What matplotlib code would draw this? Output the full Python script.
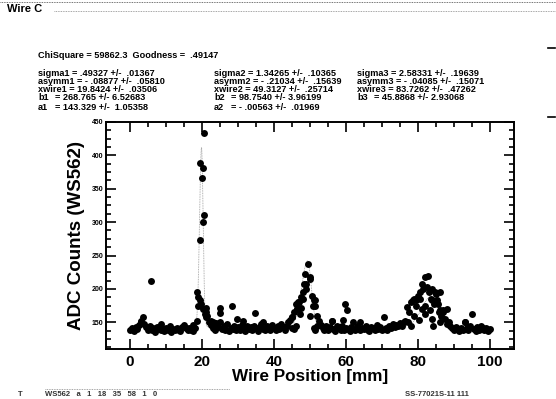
import numpy as np
import matplotlib.pyplot as plt

# wire scan, main pass every 0.5 mm from 0 to 100
x_main = np.arange(0, 100.5, 0.5)
y_main = [
    138, 141, 137, 143, 140, 146, 150, 158, 147, 143,   # 0 - 4.5
    139, 144, 138, 141, 136, 143, 140, 138, 142, 137,   # 5 - 9.5
    141, 139, 144, 136, 140, 138, 142, 139, 137, 143,   # 10 - 14.5
    146, 141, 138, 142, 139, 137, 141, 152, 188, 273,   # 15 - 19.5
    366, 310, 172, 160, 150, 146, 141, 138, 149, 143,   # 20 - 24.5
    151, 140, 144, 139, 147, 137, 142, 140, 145, 138,   # 25 - 29.5
    143, 139, 146, 141, 137, 144, 140, 143, 138, 145,   # 30 - 34.5
    141, 137, 143, 148, 140, 138, 144, 141, 139, 146,   # 35 - 39.5
    142, 138, 144, 140, 147, 143, 139, 145, 150, 153,   # 40 - 44.5
    158, 165, 178, 170, 180, 188, 195, 223, 208, 237,   # 45 - 49.5
    218, 190, 183, 175, 160, 152, 146, 141, 139, 144,   # 50 - 54.5
    138, 143, 152, 140, 137, 145, 141, 139, 144, 138,   # 55 - 59.5
    142, 140, 137, 143, 150, 139, 144, 141, 138, 142,   # 60 - 64.5
    140, 145, 139, 137, 143, 141, 138, 146, 140, 143,   # 65 - 69.5
    139, 158, 142, 138, 144, 141, 147, 143, 146, 144,   # 70 - 74.5
    149, 145, 150, 152, 173, 165, 180, 183, 185, 175,   # 75 - 79.5
    190, 195, 208, 200, 218, 203, 195, 185, 183, 178,   # 80 - 84.5
    193, 178, 168, 160, 165, 155, 170, 150, 145, 141,   # 85 - 89.5
    138, 143, 140, 137, 142, 139, 150, 141, 138, 144,   # 90 - 94.5
    163, 140, 137, 143, 139, 145, 141, 138, 142, 137,   # 95 - 99.5
    140,                                                # 100
]

# repeated readings (second pass) near the peaks and a few strays
x_extra = [5.8, 18.6, 18.8, 19.4, 20.3, 20.4, 20.3, 19.5, 19.7, 20.2,
           21.0, 21.2, 20.8, 22.4, 25.0, 25.0, 28.2, 29.6, 23.0, 34.7,
           31.5, 37.0, 44.9, 46.3, 47.2, 48.3, 50.0, 50.9, 51.4, 50.0,
           46.8, 49.0, 47.5, 48.0, 45.0, 45.5, 46.0, 51.0, 51.5, 52.0,
           59.7, 60.2, 59.3, 64.0, 56.0, 82.9, 81.9, 83.3, 83.8, 84.3,
           80.3, 77.3, 87.0, 86.1, 85.2, 80.6, 79.6, 84.7, 83.8, 82.0,
           81.0, 85.8, 79.0, 78.0, 86.0, 88.0, 93.0, 3.0, 17.5, 8.5]
y_extra = [212, 195, 175, 388, 381, 433, 300, 183, 178, 170,
           165, 158, 162, 152, 164, 171, 175, 155, 150, 164,
           152, 150, 158, 170, 163, 208, 160, 175, 183, 215,
           180, 200, 172, 185, 142, 140, 145, 142, 139, 144,
           178, 168, 153, 150, 152, 220, 163, 168, 155, 145,
           153, 150, 168, 195, 183, 185, 183, 195, 200, 175,
           170, 165, 160, 145, 150, 148, 150, 152, 146, 147]

# fit results printed on the plot (as printed)
chisq, goodness = "59862.3", ".49147"
sigma = [".49327", "1.34265", "2.58331"]
sigma_err = [".01367", ".10365", ".19639"]
asymm = ["-.08877", "-.21034", "-.04085"]
asymm_err = [".05810", ".15639", ".15071"]
xwire = ["19.8424", "49.3127", "83.7262"]
xwire_err = [".03506", ".25714", ".47262"]
b = ["268.765", "98.7540", "45.8868"]
b_err = ["6.52683", "3.96199", "2.93068"]
a = ["143.329", "-.00563"]
a_err = ["1.05358", ".01969"]


def fit_curve(x):
    y = float(a[0]) + float(a[1]) * x
    for s, asy, x0, amp in zip(sigma, asymm, xwire, b):
        s, asy, x0, amp = float(s), float(asy), float(x0), float(amp)
        sw = np.where(x < x0, s * (1 - asy), s * (1 + asy))
        y = y + amp * np.exp(-0.5 * ((x - x0) / sw) ** 2)
    return y


W, H = 556, 399
fig = plt.figure(figsize=(W / 100, H / 100), dpi=100)
fn = ["Liberation Sans Narrow", "Liberation Sans"]
fb = ["Liberation Sans", "DejaVu Sans"]


def ftext(px, py, s, **kw):
    fig.text(px / W, 1 - py / H, s, **kw)


def hline(x0, x1, py, color="#666666"):
    fig.add_artist(plt.Line2D([x0 / W, x1 / W], [1 - py / H, 1 - py / H],
                              color=color, lw=0.6, ls=(0, (1, 1))))


# header
ftext(7, 9, "Wire C", fontsize=8, fontweight="bold", family=fb, va="center")
hline(0, W, 2, "#444444")
hline(54, W, 11, "#888888")
fig.add_artist(plt.Line2D([548 / W, 555 / W], [1 - 48 / H] * 2, color="black", lw=1.2))
fig.add_artist(plt.Line2D([548 / W, 555 / W], [1 - 117 / H] * 2, color="black", lw=1.2))

hk = dict(fontsize=6.6, fontweight="bold", family=fn, va="center")
ftext(38, 55, f"ChiSquare = {chisq}  Goodness =  {goodness}", **hk)
cols = [38, 214, 357]
rows = [73, 81, 89, 98, 107]
for i in range(3):
    x0 = cols[i]
    ftext(x0, rows[0], f"sigma{i+1} = {sigma[i]} +/-  {sigma_err[i]}", **hk)
    ftext(x0, rows[1], f"asymm{i+1} = {asymm[i].replace('-', '- ')} +/-  {asymm_err[i]}", **hk)
    ftext(x0, rows[2], f"xwire{i+1} = {xwire[i]} +/-  {xwire_err[i]}", **hk)
    ftext(x0, rows[3], f"b{i+1}", **hk)
    ftext(x0 + 17, rows[3], f"= {b[i]} +/- {b_err[i]}", **hk)
for i in range(2):
    x0 = cols[i]
    ftext(x0, rows[4], f"a{i+1}", **hk)
    ftext(x0 + 17, rows[4], f"= {a[i].replace('-', '- ')} +/-  {a_err[i]}", **hk)

# footer (faint scan residue along the page edge)
hline(45, 230, 389, "#888888")
fk = dict(fontsize=5.5, fontweight="bold", family=fn, va="center", color="#333333")
ftext(18, 394, "T", **fk)
ftext(45, 394, "WS562   a   1   18   35   58   1   0", **fk)
ftext(405, 394, "SS-77021S-11 111", **fk)

ax = fig.add_axes([106 / W, 1 - 349 / H, 408 / W, 227 / H])
xf = np.linspace(0, 100, 3000)
ax.plot(xf, fit_curve(xf), color="#999999", lw=0.6, ls=(0, (1, 1)))
ax.plot(x_main, y_main, "o", color="black", ms=5, mew=0)
ax.plot(x_extra, y_extra, "o", color="black", ms=5, mew=0)

ax.set_xlim(-6.7, 106.7)
ax.set_ylim(110, 450)
ax.set_xticks([0, 20, 40, 60, 80, 100])
ax.set_xticks(np.arange(0, 101, 5), minor=True)
ax.set_yticks([150, 200, 250, 300, 350, 400, 450])
ax.set_yticks(np.arange(112.5, 450, 12.5), minor=True)
ax.tick_params(which="both", direction="in", top=True, right=True, width=1.2)
ax.tick_params(which="major", length=7)
ax.tick_params(which="minor", length=3.5)
ax.tick_params(axis="x", labelsize=11, pad=4)
ax.tick_params(axis="y", labelsize=5, pad=2)
for lab in ax.get_xticklabels() + ax.get_yticklabels():
    lab.set_fontweight("bold")
    lab.set_family(fb)
for sp in ax.spines.values():
    sp.set_linewidth(1.4)
ax.set_xlabel("Wire Position [mm]", fontsize=12.3, fontweight="bold", family=fb, labelpad=0)
ax.set_ylabel("ADC Counts (WS562)", fontsize=13.5, fontweight="bold", family=fb, labelpad=5)

fig.savefig("out.png", dpi=100)
